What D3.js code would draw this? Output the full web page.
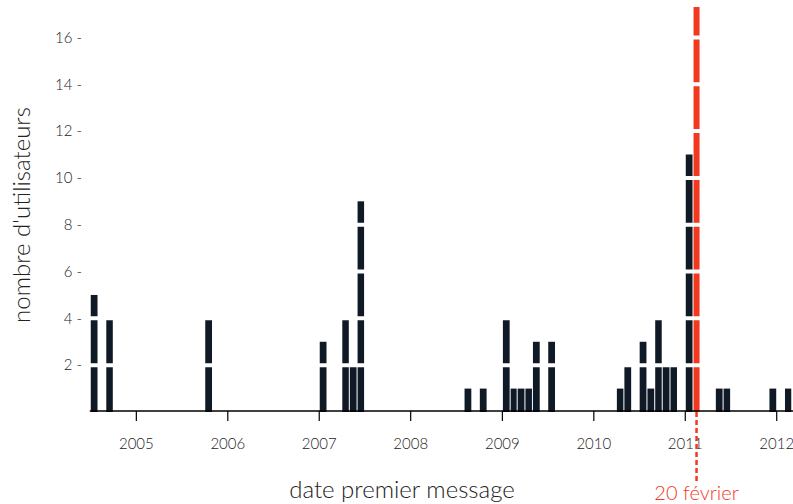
<!DOCTYPE html>
<html>
<head>
<meta charset="utf-8">
<script src="https://cdn.jsdelivr.net/npm/d3@7"></script>
<style>
  body { margin: 0; background: #fff; }
  text { font-family: "Lato", "Open Sans", sans-serif; font-weight: 300; }
</style>
</head>
<body>
<div id="chart"></div>
<script>
// Data: first message month -> number of users
const months = ["2004-07", "2004-09", "2005-10", "2007-01", "2007-04", "2007-05", "2007-06",
    "2008-08", "2008-10", "2009-01", "2009-02", "2009-03", "2009-04", "2009-05", "2009-07",
    "2010-04", "2010-05", "2010-07", "2010-08", "2010-09", "2010-10", "2010-11", "2011-01",
    "2011-05", "2011-06", "2011-12", "2012-02"];
const counts = [5, 4, 4, 3, 4, 2, 9, 1, 1, 4, 1, 1, 1, 3, 3, 1, 2, 3, 1, 4, 2, 2, 11, 1, 1, 1, 1];
const highlightMonth = "2011-02";
const highlightCount = 17.3;
const highlightLabel = "20 février";
const yTicks = [2, 4, 6, 8, 10, 12, 14, 16];
const xDomain = ["2004-07", "2012-03"];

const width = 793;
const height = 504;
const parse = d3.timeParse("%Y-%m");

const data = months.map((m, i) => ({ date: parse(m), count: counts[i] }));
const hl = { date: parse(highlightMonth), count: highlightCount };

// Scales
const x = d3.scaleTime()
    .domain(xDomain.map(parse))
    .range([89.75, 791.25]);

const y = d3.scaleLinear()
    .domain([0, 17.6])
    .range([412, 0]);

const svg = d3.select("#chart").append("svg")
    .attr("width", width)
    .attr("height", height);

const barX = d => x(d.date) + 1;
const barW = d => x(d3.timeMonth.offset(d.date, 1)) - x(d.date) - 1;

// Bars
svg.append("g")
    .selectAll("rect")
    .data(data)
    .join("rect")
    .attr("x", barX)
    .attr("y", d => y(d.count))
    .attr("width", barW)
    .attr("height", d => y(0) - y(d.count))
    .attr("fill", "#101a27");

// Highlighted month
svg.append("rect")
    .attr("x", barX(hl))
    .attr("y", y(hl.count))
    .attr("width", barW(hl))
    .attr("height", y(0) - y(hl.count))
    .attr("fill", "#f2391f");

// White grid lines cutting through the bars
svg.append("g")
    .selectAll("line")
    .data(yTicks)
    .join("line")
    .attr("x1", x.range()[0])
    .attr("x2", x.range()[1])
    .attr("y1", d => y(d))
    .attr("y2", d => y(d))
    .attr("stroke", "#fff")
    .attr("stroke-width", 4);

// x axis
svg.append("g")
    .attr("transform", `translate(0,${y(0) - 1})`)
    .call(d3.axisBottom(x)
        .ticks(d3.timeYear)
        .tickFormat(d3.timeFormat("%Y"))
        .tickSize(10)
        .tickSizeOuter(0)
        .tickPadding(17))
    .call(g => g.select(".domain").attr("stroke", "#000").attr("stroke-width", 1.5).attr("d", `M${x.range()[0]},0H${width}`))
    .call(g => g.selectAll(".tick line").attr("stroke", "#000").attr("stroke-width", 1.2))
    .call(g => g.selectAll(".tick text")
        .attr("font-family", "Lato, sans-serif")
        .attr("font-size", 15)
        .attr("fill", "#222"));

// y axis (labels only)
svg.append("g")
    .attr("transform", "translate(82,0)")
    .call(d3.axisLeft(y).tickValues(yTicks).tickFormat(d => d + " -").tickSize(0).tickPadding(0))
    .call(g => g.select(".domain").remove())
    .call(g => g.selectAll(".tick line").remove())
    .call(g => g.selectAll(".tick text")
        .attr("font-family", "Lato, sans-serif")
        .attr("font-size", 15)
        .attr("fill", "#222"));

// Axis titles
svg.append("text")
    .attr("transform", "translate(30,215) rotate(-90)")
    .attr("text-anchor", "middle")
    .attr("font-size", 24)
    .attr("fill", "#222")
    .text("nombre d'utilisateurs");

svg.append("text")
    .attr("x", 402)
    .attr("y", 498)
    .attr("text-anchor", "middle")
    .attr("font-size", 24)
    .attr("fill", "#222")
    .text("date premier message");

// Marker for the highlighted date
const hx = barX(hl) + barW(hl) / 2;
svg.append("line")
    .attr("x1", hx).attr("x2", hx)
    .attr("y1", y(0)).attr("y2", 484)
    .attr("stroke", "#f2391f")
    .attr("stroke-width", 2.5)
    .attr("stroke-dasharray", "5,3");

svg.append("text")
    .attr("x", hx)
    .attr("y", 500)
    .attr("text-anchor", "middle")
    .attr("font-size", 20)
    .attr("fill", "#f2391f")
    .text(highlightLabel);
</script>
</body>
</html>
